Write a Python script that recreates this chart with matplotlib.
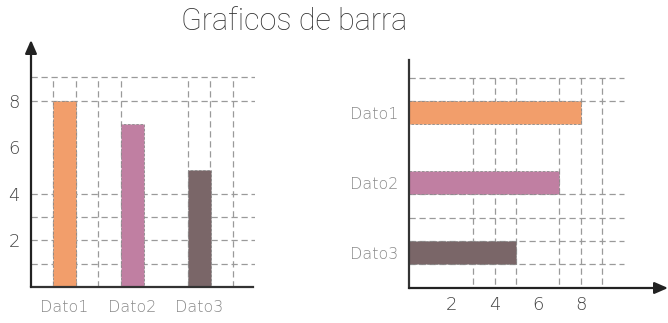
import matplotlib.pyplot as plt

categories = ["Dato1", "Dato2", "Dato3"]
values = [8, 7, 5]
colors = ["#F29E6B", "#C07FA2", "#7A6668"]
ticks = [2, 4, 6, 8]
title = "Graficos de barra"

W, H = 668, 323
fig = plt.figure(figsize=(W / 100, H / 100), dpi=100)
fig.patch.set_facecolor("white")

grid_kw = dict(color="#9a9a9a", linestyle=(0, (5, 3)), linewidth=0.9, zorder=1)
label_kw = dict(color="#8a8a8a", fontsize=11.5, family="DejaVu Sans", fontweight="light")


def px_axes(x0, y0, x1, y1):
    # axes box given in pixel coords (top-left origin)
    return fig.add_axes([x0 / W, 1 - y1 / H, (x1 - x0) / W, (y1 - y0) / H])


# ---- left: vertical bars ----
ax1 = px_axes(31, 40, 255, 287)
ax1.set_xlim(0.504, 3.82)
ax1.set_ylim(0, 10.6)
for s in ax1.spines.values():
    s.set_visible(False)
for y in [1, 2, 3, 4, 8, 9]:
    ax1.plot([0.504, 3.82], [y, y], **grid_kw)
for x in [0.834, 1.166, 1.49, 1.83, 2.83, 3.16, 3.49]:
    ax1.plot([x, x], [0, 9], **grid_kw)
pos = [1, 2, 3]
ax1.bar(pos, values, width=0.34, color=colors, edgecolor="#8a8a8a",
        linestyle=(0, (3, 2)), linewidth=0.6, zorder=2)
ax1.plot([0.504, 3.79], [0, 0], color="#333333", lw=1.6, zorder=3, clip_on=False)
ax1.annotate("", xy=(0.504, 10.6), xytext=(0.504, 0),
             arrowprops=dict(arrowstyle="-|>,head_length=0.8,head_width=0.35",
                             color="#222222", lw=1.6, shrinkA=0, shrinkB=0),
             annotation_clip=False, zorder=3)
ax1.set_xticks(pos)
ax1.set_xticklabels(categories, **label_kw)
ax1.set_yticks(ticks)
ax1.set_yticklabels([str(t) for t in ticks], color="#444444", fontsize=13,
                    family="DejaVu Sans", fontweight="light")
ax1.tick_params(length=0, pad=9)
ax1.tick_params(axis="y", pad=8)

# ---- right: horizontal bars ----
ax2 = px_axes(409, 60, 668, 288)
ax2.set_xlim(0, 12.05)
ax2.set_ylim(2.507, -0.75)
for s in ax2.spines.values():
    s.set_visible(False)
for y in [-0.5, -0.16, 1.16, 1.5, 1.84, 2.16]:
    ax2.plot([0, 10], [y, y], **grid_kw)
for x in [3, 4, 5, 7, 8, 9]:
    ax2.plot([x, x], [-0.5, 2.507], **grid_kw)
ypos = [0, 1, 2]
ax2.barh(ypos, values, height=0.32, color=colors, edgecolor="#8a8a8a",
         linestyle=(0, (3, 2)), linewidth=0.6, zorder=2)
ax2.plot([0, 0], [-0.75, 2.507], color="#333333", lw=1.6, zorder=3, clip_on=False)
ax2.annotate("", xy=(12.05, 2.507), xytext=(0, 2.507),
             arrowprops=dict(arrowstyle="-|>,head_length=0.8,head_width=0.35",
                             color="#222222", lw=1.6, shrinkA=0, shrinkB=0),
             annotation_clip=False, zorder=3)
ax2.set_yticks(ypos)
ax2.set_yticklabels(categories, **label_kw)
ax2.set_xticks(ticks)
ax2.set_xticklabels([str(t) for t in ticks], color="#444444", fontsize=13,
                    family="DejaVu Sans", fontweight="light")
ax2.tick_params(length=0)
ax2.tick_params(axis="x", pad=6)
ax2.tick_params(axis="y", pad=8)

fig.text(294 / W, 1 - 21 / H, title, ha="center", va="center",
         fontsize=22, color="#333333", family="Roboto", fontweight="light")

fig.savefig("out.png", dpi=100)
